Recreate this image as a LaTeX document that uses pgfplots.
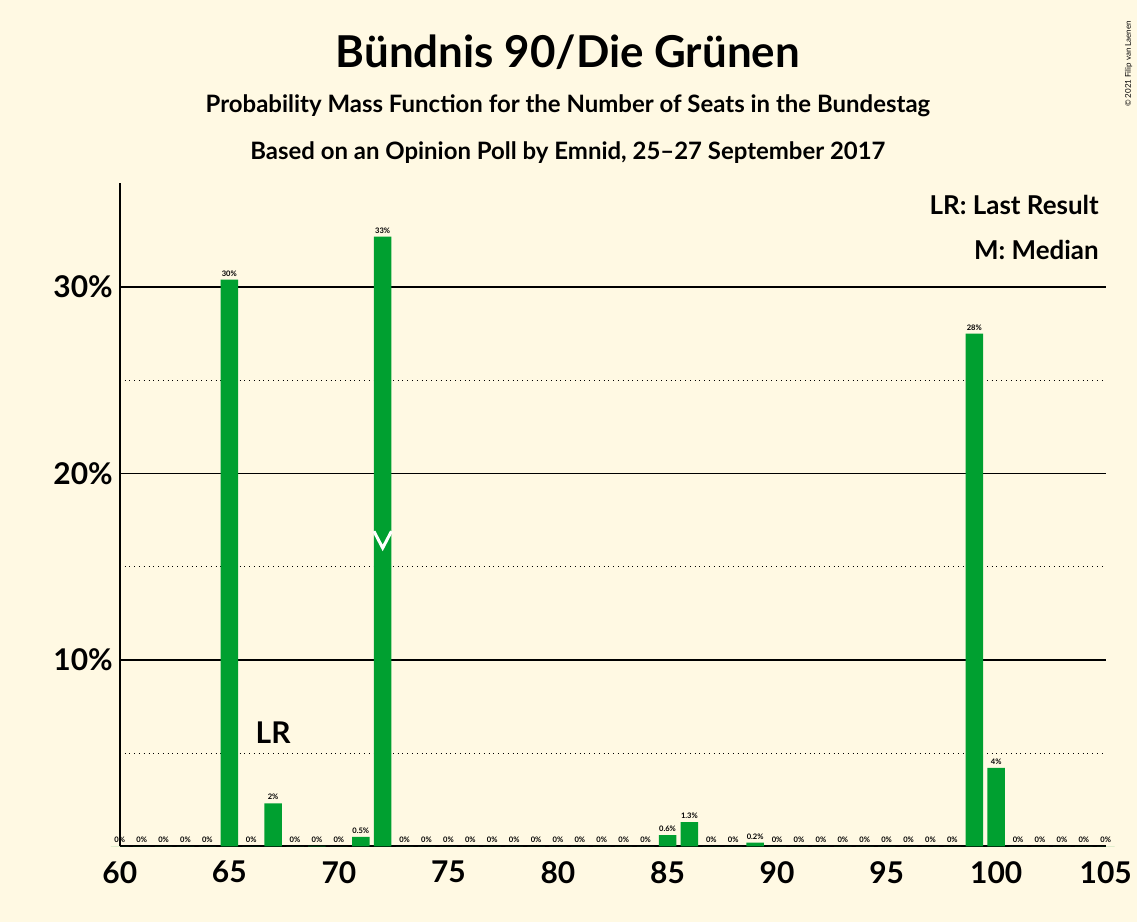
\documentclass[border=0pt]{standalone}
\usepackage{pgfplots}
\pgfplotsset{compat=1.18}
\usepackage{pgfplotstable}
\usepackage{fontspec}
\setmainfont{Lato}
\definecolor{bg}{HTML}{FFF9E3}
\definecolor{gr}{HTML}{00A030}
\pgfplotstableread{
x y lab
60 0 0\%
61 0 0\%
62 0 0\%
63 0 0\%
64 0 0\%
65 30.4 30\%
66 0 0\%
67 2.3 2\%
68 0 0\%
69 0.02 0\%
70 0 0\%
71 0.5 0.5\%
72 32.7 33\%
73 0 0\%
74 0 0\%
75 0 0\%
76 0 0\%
77 0 0\%
78 0 0\%
79 0 0\%
80 0 0\%
81 0 0\%
82 0 0\%
83 0 0\%
84 0 0\%
85 0.6 0.6\%
86 1.3 1.3\%
87 0 0\%
88 0 0\%
89 0.2 0.2\%
90 0 0\%
91 0 0\%
92 0 0\%
93 0 0\%
94 0 0\%
95 0 0\%
96 0 0\%
97 0 0\%
98 0 0\%
99 27.5 28\%
100 4.2 4\%
101 0 0\%
102 0 0\%
103 0 0\%
104 0 0\%
105 0 0\%
}\data
\begin{document}
\begin{tikzpicture}
\fill[bg] (0,0) rectangle (569.5pt,462pt);
\node[font=\bfseries\fontsize{22}{26}\selectfont] at (284.5pt,436pt) {Bündnis 90/Die Grünen};
\node[font=\bfseries\fontsize{12}{14}\selectfont] at (284.5pt,409pt) {Probability Mass Function for the Number of Seats in the Bundestag};
\node[font=\bfseries\fontsize{12}{14}\selectfont] at (284.5pt,385.5pt) {Based on an Opinion Poll by Emnid, 25–27 September 2017};
\node[rotate=90,font=\fontsize{4}{5}\selectfont] at (565.5pt,430pt) {© 2021 Filip van Laenen};
\begin{axis}[at={(60pt,38pt)},anchor=origin,scale only axis,width=494pt,height=332.5pt,
  xmin=60,xmax=105,ymin=0,ymax=35.6,clip=false,
  axis x line=bottom,axis y line=left,axis line style={thick,-},
  xtick={60,65,...,105},ytick={10,20,30},yticklabel={\pgfmathprintnumber{\tick}\%},
  major tick length=0pt,
  tick label style={font=\bfseries\fontsize{15}{18}\selectfont},
  /pgf/number format/assume math mode=true,
  xticklabel style={yshift=-4pt},
  ]
\foreach \v in {5,15,25}{\edef\tmp{\noexpand\draw[dotted] (axis cs:60,\v) -- (axis cs:105,\v);}\tmp}
\foreach \v in {10,20,30}{\edef\tmp{\noexpand\draw[thick] (axis cs:60,\v) -- (axis cs:105,\v);}\tmp}
\addplot[ybar,bar width=0.8,fill=gr,draw=none,
  nodes near coords,point meta=explicit symbolic,
  every node near coord/.style={font=\bfseries\fontsize{3.8}{4}\selectfont,inner sep=1.5pt}]
  table[x=x,y=y,meta=lab]{\data};
\draw[white,line width=1.5pt] (axis cs:71.6,16.9) -- (axis cs:72,16.0) -- (axis cs:72.4,16.9);
\node[font=\bfseries\fontsize{15}{18}\selectfont] at (axis cs:67,6.1) {LR};
\node[anchor=east,font=\bfseries\fontsize{13}{16}\selectfont] at (axis cs:105,34.4) {LR: Last Result};
\node[anchor=east,font=\bfseries\fontsize{13}{16}\selectfont] at (axis cs:105,32.0) {M: Median};
\end{axis}
\end{tikzpicture}
\end{document}
